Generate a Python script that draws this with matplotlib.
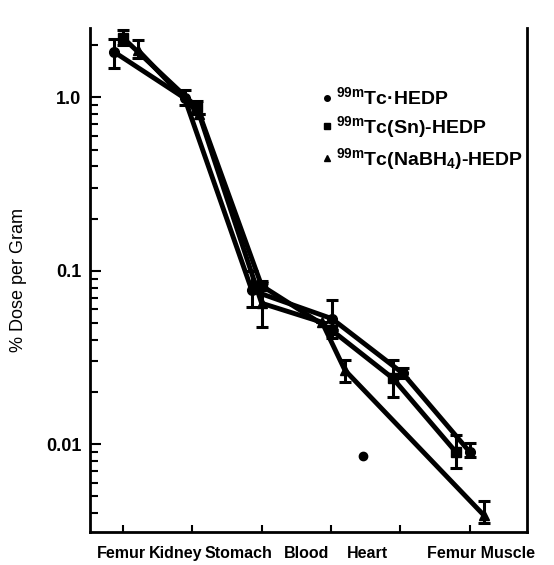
import matplotlib.pyplot as plt
import numpy as np
from matplotlib.ticker import FixedLocator, NullFormatter

plt.rcParams["font.family"] = ["Liberation Sans", "DejaVu Sans"]
plt.rcParams["font.weight"] = "bold"
plt.rcParams["mathtext.default"] = "regular"

organs = ["Femur", "Kidney", "Stomach", "Blood", "Heart", "Femur Muscle"]

# % dose per gram
hedp = [1.82, 0.99, 0.077, 0.053, 0.0257, 0.0090]
hedp_lo = [1.47, 0.90, 0.062, 0.041, 0.0240, 0.0084]
hedp_hi = [2.16, 1.10, 0.100, 0.068, 0.0275, 0.0101]

sn = [2.19, 0.875, 0.082, 0.0454, 0.0240, 0.0090]
sn_lo = [1.99, 0.80, 0.079, 0.0454, 0.0187, 0.0073]
sn_hi = [2.43, 0.95, 0.087, 0.0454, 0.0305, 0.0113]

nabh4 = [1.87, 0.80, 0.065, 0.0505, 0.0267, 0.0039]
nabh4_lo = [1.68, 0.80, 0.0474, 0.0505, 0.0227, 0.0035]
nabh4_hi = [2.13, 0.80, 0.0855, 0.0505, 0.0306, 0.0047]

stray = [0.0085]

labels = ["$^{99m}$Tc·HEDP", "$^{99m}$Tc(Sn)-HEDP", "$^{99m}$Tc(NaBH$_4$)-HEDP"]

# horizontal shift of each series around its organ slot
shift_hedp = [-0.12, -0.11, -0.14, 0.01, 0.03, 0.0]
shift_sn = [0.01, 0.07, 0.0, 0.01, -0.11, -0.2]
shift_nabh4 = [0.22, 0.10, 0.0, -0.13, -0.80, 0.2]

fig = plt.figure(figsize=(5.54, 5.65), dpi=100)
ax = fig.add_axes([0.162, 0.058, 0.789, 0.892])
ax.set_yscale("log")

idx = np.arange(len(organs))
series = [
    (hedp, hedp_lo, hedp_hi, shift_hedp, "o"),
    (sn, sn_lo, sn_hi, shift_sn, "s"),
    (nabh4, nabh4_lo, nabh4_hi, shift_nabh4, "^"),
]
for (vals, lo, hi, sh, mk), lab in zip(series, labels):
    x = idx + np.array(sh)
    v = np.array(vals)
    err = [v - np.array(lo), np.array(hi) - v]
    ax.plot(x, v, color="black", lw=3.5, solid_capstyle="round", zorder=2)
    ax.errorbar(x, v, yerr=err, fmt=mk, color="black", ms=7, elinewidth=2.2,
                capsize=4, capthick=2.2, zorder=3)
    ax.plot([], [], mk, color="black", ms=4, label=lab)

ax.plot([3.46], stray, "o", color="black", ms=6)

ax.set_xlim(-0.475, 5.82)
ax.set_ylim(0.00311, 2.5)

# tick marks at organ slots, names placed as in the original print
ax.set_xticks(idx, [""] * len(organs))
ax.set_xticks([-0.02, 0.76, 1.67, 2.65, 3.52, 5.16], organs, minor=True)
ax.tick_params(axis="x", which="major", direction="in", length=5, width=1.5)
ax.tick_params(axis="x", which="minor", length=0, pad=10, labelsize=11.5)

ax.yaxis.set_major_locator(FixedLocator([0.01, 0.1, 1.0]))
ax.set_yticklabels(["0.01", "0.1", "1.0"])
ax.yaxis.set_minor_formatter(NullFormatter())
ax.tick_params(axis="y", which="major", direction="in", length=8, width=1.5,
               labelsize=13, pad=6)
ax.tick_params(axis="y", which="minor", direction="in", length=6, width=1.5)

ax.spines["top"].set_visible(False)
for s in ["left", "right", "bottom"]:
    ax.spines[s].set_linewidth(2)

ax.set_ylabel("% Dose per Gram", fontsize=13, labelpad=14)

ax.legend(loc="upper left", bbox_to_anchor=(0.515, 0.9), frameon=False,
          handlelength=0.4, handletextpad=0.3, labelspacing=0.3, fontsize=14,
          borderaxespad=0)

fig.savefig("out.png", dpi=100)
